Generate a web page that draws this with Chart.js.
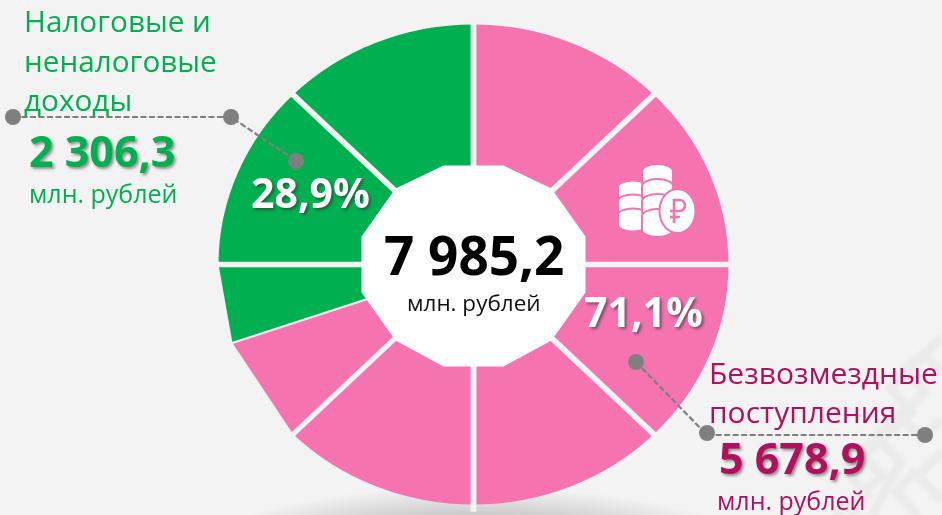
<!DOCTYPE html>
<html lang="ru">
<head>
<meta charset="utf-8">
<title>Доходы</title>
<script src="https://cdn.jsdelivr.net/npm/chart.js@4"></script>
<style>
  html, body { margin: 0; padding: 0; background: #f3f3f3; }
  #stage { position: relative; width: 942px; height: 515px; overflow: hidden; font-family: "Open Sans", sans-serif; }
  #stage > * { position: absolute; }
  #back, #front { left: 0; top: 0; }
  #shadow { left: 155px; top: 486px; width: 640px; height: 190px; border-radius: 50%;
    background: radial-gradient(closest-side, #bbb 0%, #c6c6c6 66%, #dcdcdc 82%, #f3f3f3 100%); }
  #pie { left: 0; top: 0; }
  .txt { white-space: nowrap; }
  .head { font-size: 29.7px; line-height: 39.5px; }
  .sum { font-size: 43px; font-weight: 700; line-height: 46px; text-shadow: 2px 2px 3px rgba(60,60,60,.55); }
  .unit { font-size: 25px; line-height: 30px; }
  .pct { font-size: 41px; font-weight: 700; line-height: 44px; color: #fff; text-shadow: 2px 2px 3px rgba(50,50,50,.6); }
  .green { color: #00b050; }
  .rose { color: #b0105c; }
</style>
</head>
<body>
<div id="stage">
  <svg id="back" width="942" height="515" fill="none" stroke="#ebebeb" stroke-width="9">
    <defs><filter id="soft"><feGaussianBlur stdDeviation="1.5"/></filter></defs>
    <g filter="url(#soft)">
      <path d="M942 338 L905 370 L925 392 L860 452 L882 476 L835 515"/>
      <path d="M942 372 L925 356 L890 388 L912 412 L846 472 L868 496 L850 515"/>
      <path d="M942 420 L922 438 L898 414 L876 436 L900 462 L872 515"/>
      <path d="M942 452 L918 476 L942 500"/>
      <path d="M918 515 L896 492 L916 470"/>
    </g>
  </svg>
  <div id="shadow"></div>
  <canvas id="pie" width="942" height="515"></canvas>
  <svg id="front" width="942" height="515">
    <g fill="none" stroke="#7f7f7f" stroke-width="2.2" stroke-dasharray="6 2.5">
      <polyline points="13,117 231,117 296,161"/>
      <polyline points="636,362 707,435 925,435"/>
    </g>
    <g fill="#7f7f7f">
      <circle cx="13" cy="117" r="8"/><circle cx="231" cy="117" r="8"/><circle cx="296" cy="161" r="8"/>
      <circle cx="636" cy="362" r="8"/><circle cx="707" cy="433" r="8"/><circle cx="925" cy="435" r="8"/>
    </g>
    <!-- монеты -->
    <g fill="#fff" stroke="#f574b0" stroke-width="2">
      <path d="M618 187 a15 6.5 0 0 1 30 0 v10 a15 6.5 0 0 1 -30 0z"/>
      <path d="M618 201 a15 6.5 0 0 1 30 0 v10 a15 6.5 0 0 1 -30 0z"/>
      <path d="M618 215 a15 6.5 0 0 1 30 0 v10 a15 6.5 0 0 1 -30 0z"/>
      <path d="M642 171 a15.5 7 0 0 1 31 0 v11 a15.5 7 0 0 1 -31 0z"/>
      <path d="M642 186 a15.5 7 0 0 1 31 0 v11 a15.5 7 0 0 1 -31 0z"/>
      <path d="M642 201 a15.5 7 0 0 1 31 0 v11 a15.5 7 0 0 1 -31 0z"/>
      <path d="M642 216 a15.5 7 0 0 1 31 0 v14 a15.5 7 0 0 1 -31 0z"/>
      <ellipse cx="677.5" cy="211" rx="18" ry="22"/>
    </g>
    <path d="M674 223 V200 h5.5 a5.5 5.5 0 0 1 0 11 H670 M670 217 h10" fill="none" stroke="#f574b0" stroke-width="2.6"/>
  </svg>
  <div id="head1" class="txt head green" style="left:24px;top:1px"></div>
  <div id="sum1" class="txt sum green" style="left:29px;top:128px"></div>
  <div id="unit1" class="txt unit green" style="left:29px;top:178px"></div>
  <div id="pct1" class="txt pct" style="left:251px;top:170px"></div>
  <div id="total" class="txt" style="left:384px;top:220.5px;font-size:53px;font-weight:700;line-height:68px;color:#000"></div>
  <div id="unit0" class="txt" style="left:407px;top:288px;font-size:22.5px;line-height:30px;color:#111"></div>
  <div id="pct2" class="txt pct" style="left:584px;top:289px"></div>
  <div id="head2" class="txt head rose" style="left:709px;top:354px;font-size:30px;line-height:38.5px"></div>
  <div id="sum2" class="txt sum rose" style="left:719px;top:435px"></div>
  <div id="unit2" class="txt unit rose" style="left:717px;top:485px"></div>
</div>
<script>
// сектора круга, доли
const sectorLabels = ['П1', 'П2', 'П3', 'П4', 'П5', 'П6', 'Н1', 'Н2', 'Н3'];
const sectorValues = [12.5, 12.5, 12.5, 12.5, 12.5, 7.2, 5.3, 12.5, 12.5];
const sectorColors = ['#f574b0', '#f574b0', '#f574b0', '#f574b0', '#f574b0', '#f574b0', '#00b050', '#00b050', '#00b050'];
const gapWidths = [5.5, 5.5, 5.5, 5.5, 5.5, 5, 2, 5.5, 5.5];

const totalText = '7 985,2';
const unitText = 'млн. рублей';
const taxLines = ['Налоговые и', 'неналоговые', 'доходы'];
const taxSum = '2 306,3';
const taxShare = '28,9%';
const grantLines = ['Безвозмездные', 'поступления'];
const grantSum = '5 678,9';
const grantShare = '71,1%';

const BG = '#f3f3f3';
const STRETCH = 255 / 240; // круг на слайде растянут по ширине

function setText(id, text) {
  document.getElementById(id).innerHTML = text;
}
setText('total', totalText);
setText('unit0', unitText);
setText('head1', taxLines.join('<br>'));
setText('sum1', taxSum);
setText('unit1', unitText);
setText('pct1', taxShare);
setText('head2', grantLines.join('<br>'));
setText('sum2', grantSum);
setText('unit2', unitText);
setText('pct2', grantShare);

const sliceStyle = {
  id: 'sliceStyle',
  beforeDatasetsDraw(chart) {
    const { ctx } = chart;
    const arc = chart.getDatasetMeta(0).data[0];
    ctx.save();
    ctx.translate(arc.x, arc.y);
    ctx.scale(STRETCH, 1);
    ctx.translate(-arc.x, -arc.y);
  },
  afterDatasetsDraw(chart) {
    const { ctx } = chart;
    const arcs = chart.getDatasetMeta(0).data;
    const cx = arcs[0].x, cy = arcs[0].y, r = arcs[0].outerRadius;
    const at = (a, k) => [cx + Math.cos(a) * r * k, cy + Math.sin(a) * r * k];

    // щели между секторами
    arcs.forEach((arc, i) => {
      const [x, y] = at(arc.startAngle, 1.03);
      ctx.beginPath();
      ctx.moveTo(cx, cy);
      ctx.lineTo(x, y);
      ctx.strokeStyle = BG;
      ctx.lineWidth = gapWidths[i];
      ctx.stroke();
    });

    // нижние левые сектора на слайде с прямым краем
    const a0 = arcs[5].startAngle, a1 = arcs[6].startAngle, a2 = arcs[6].endAngle;
    ctx.beginPath();
    [at(a0, 1), at(a1, 1), at(a2, 1), at(a2, 1.05), at(a1, 1.05), at(a0, 1.05)].forEach(([x, y], i) => {
      if (i) ctx.lineTo(x, y); else ctx.moveTo(x, y);
    });
    ctx.closePath();
    ctx.fillStyle = BG;
    ctx.fill();
    ctx.restore();

    // белый многоугольник в центре
    const hole = [[30, -99], [78, -76], [112, -28], [112, 28], [78, 76], [30, 102]];
    const pts = hole.concat(hole.slice().reverse().map(([x, y]) => [-x, y]));
    ctx.beginPath();
    pts.forEach(([x, y], i) => {
      if (i) ctx.lineTo(cx + x, cy + y); else ctx.moveTo(cx + x, cy + y);
    });
    ctx.closePath();
    ctx.fillStyle = '#fff';
    ctx.fill();
  }
};

new Chart(document.getElementById('pie'), {
  type: 'doughnut',
  data: {
    labels: sectorLabels,
    datasets: [{
      data: sectorValues,
      backgroundColor: sectorColors,
      borderWidth: 0
    }]
  },
  options: {
    responsive: false,
    animation: false,
    radius: 240,
    cutout: '30%',
    layout: { padding: { left: 5, top: 14 } },
    plugins: { legend: { display: false }, tooltip: { enabled: false } }
  },
  plugins: [sliceStyle]
});
</script>
</body>
</html>
